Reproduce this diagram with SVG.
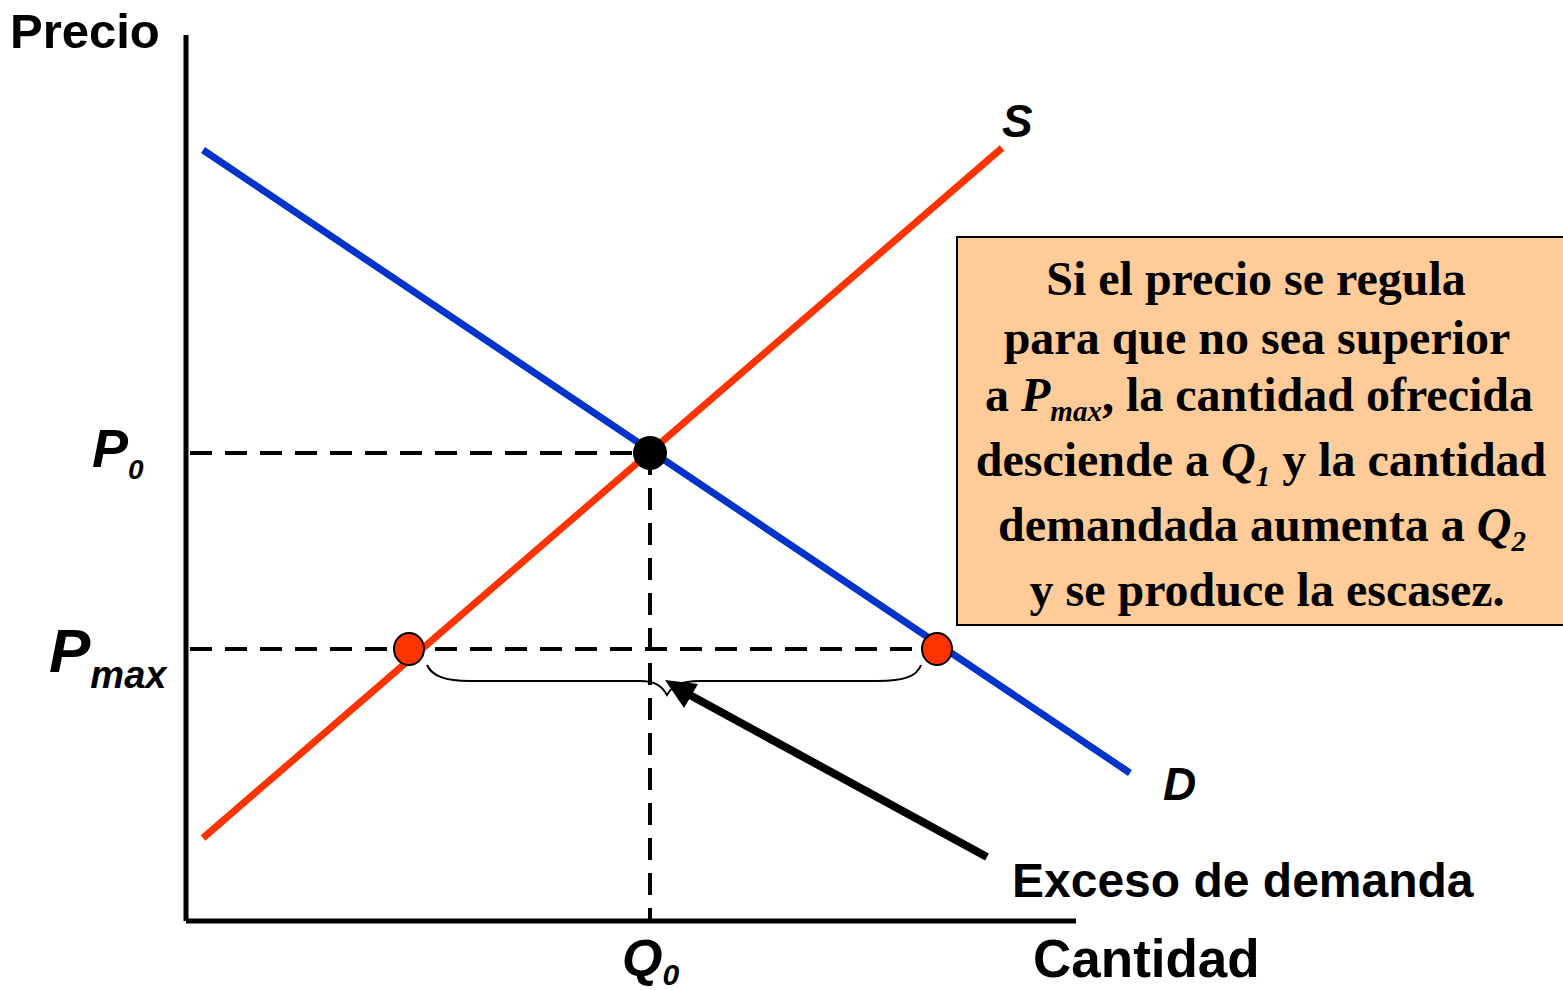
<svg xmlns="http://www.w3.org/2000/svg" width="1563" height="990" viewBox="0 0 1563 990">
<style>
.ax{stroke:#000;stroke-width:5;fill:none}
.dash{stroke:#000;stroke-width:4;stroke-dasharray:22 13;fill:none}
.lbl{font-family:"Liberation Sans",Arial,sans-serif;font-weight:bold;fill:#000}
.it{font-style:italic}
.box{font-family:"Liberation Serif","Times New Roman",serif;font-weight:bold;font-size:48px;fill:#000;text-anchor:middle}
</style>
<rect width="1563" height="990" fill="#fff"/>
<g id="axes">
<line class="ax" x1="186" y1="35" x2="186" y2="921"/>
<line class="ax" x1="186" y1="921" x2="1076" y2="921"/>
</g>
<g id="guides">
<line class="dash" x1="190" y1="453" x2="650" y2="453"/>
<line class="dash" x1="650" y1="453" x2="650" y2="921"/>
<line class="dash" x1="190" y1="649" x2="937" y2="649"/>
</g>
<g id="demand"><line x1="203" y1="150" x2="1130" y2="773" stroke="#0033CC" stroke-width="7"/></g>
<g id="supply"><line x1="203" y1="838" x2="1002" y2="148" stroke="#FF3300" stroke-width="7"/></g>
<g id="connectors">
<path d="M427 665 C432 676 445 681 470 681 L640 681 C655 681 662 686 667 695 C672 686 680 681 700 681 L877 681 C905 681 917 676 921 665" fill="none" stroke="#000" stroke-width="2"/>
<line x1="987" y1="857" x2="688" y2="694" stroke="#000" stroke-width="8"/>
<polygon points="665,680 698,684 684,708" fill="#000"/>
</g>
<g id="equilibrium"><circle cx="650" cy="453" r="17" fill="#000"/></g>
<g id="q1pt"><ellipse cx="409" cy="649" rx="15" ry="16" fill="#FF3300" stroke="#000" stroke-width="2"/></g>
<g id="q2pt"><ellipse cx="937" cy="649" rx="15" ry="16" fill="#FF3300" stroke="#000" stroke-width="2"/></g>
<g id="labels">
<text class="lbl" x="10" y="48" font-size="49">Precio</text>
<text class="lbl" x="1033" y="977" font-size="53">Cantidad</text>
<text class="lbl" x="1012" y="897" font-size="48">Exceso de demanda</text>
<text class="lbl it" x="1002" y="137" font-size="46">S</text>
<text class="lbl it" x="1163" y="800" font-size="46">D</text>
<text class="lbl it" x="92" y="467" font-size="54">P<tspan font-size="28" dy="12">0</tspan></text>
<text class="lbl it" x="49" y="672" font-size="62">P<tspan font-size="38" dy="16">max</tspan></text>
<text class="lbl it" x="622" y="976" font-size="52">Q<tspan font-size="30" dy="9">0</tspan></text>
</g>
<g id="note">
<rect x="957" y="237" width="610" height="388" fill="#FFCC99" stroke="#000" stroke-width="2"/>
<text class="box" x="1256" y="295">Si el precio se regula</text>
<text class="box" x="1257" y="354">para que no sea superior</text>
<text class="box" x="1259" y="411">a <tspan font-style="italic">P</tspan><tspan font-style="italic" font-size="29" dy="10">max</tspan><tspan dy="-10">, la cantidad ofrecida</tspan></text>
<text class="box" x="1261" y="476">desciende a <tspan font-style="italic">Q</tspan><tspan font-style="italic" font-size="29" dy="10">1</tspan><tspan dy="-10"> y la cantidad</tspan></text>
<text class="box" x="1262" y="541">demandada aumenta a <tspan font-style="italic">Q</tspan><tspan font-style="italic" font-size="29" dy="10">2</tspan></text>
<text class="box" x="1267" y="606">y se produce la escasez.</text>
</g>
</svg>
